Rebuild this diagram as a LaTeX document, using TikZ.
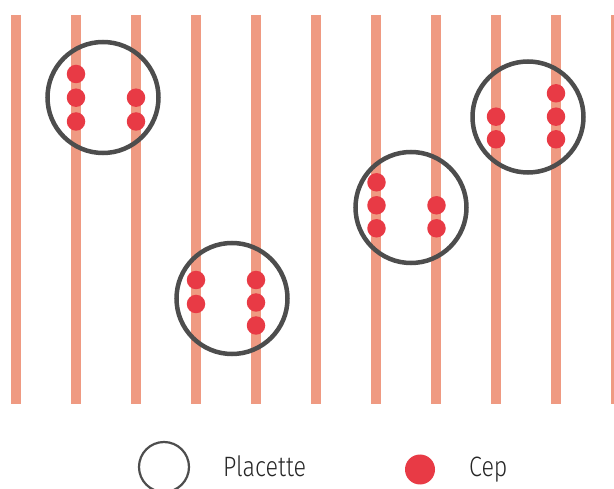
\documentclass[tikz,border=0pt]{standalone}
\usepackage{fontspec}
\setmainfont{Fira Sans}[UprightFont=* Light]
\newfontfamily\legfont{Fira Sans}[UprightFont=* Light,FakeStretch=0.83]
\definecolor{stripe}{HTML}{EF9A82}
\definecolor{cep}{HTML}{E83A45}
\definecolor{ring}{HTML}{4D4D4D}
\begin{document}
\begin{tikzpicture}[x=1pt,y=-1pt,
  stripeline/.style={draw=stripe,line width=10.5pt},
  plac/.style={circle,draw=ring,line width=4.5pt,minimum size=111pt,inner sep=0pt},
  cepdot/.style={circle,fill=cep,minimum size=18.5pt,inner sep=0pt},
  legplac/.style={circle,draw=ring,line width=2.2pt,minimum size=50pt,inner sep=0pt},
  legcep/.style={circle,fill=cep,minimum size=30pt,inner sep=0pt},
  legtext/.style={anchor=base west,inner sep=0pt,font=\legfont\fontsize{28}{30}\selectfont,text=black!85}]
\useasboundingbox (0,0) rectangle (614,489);
\foreach \i in {0,...,10} {
  \coordinate (st\i) at ({16+60*\i},15);
  \coordinate (sb\i) at ({16+60*\i},404.5);
  \draw[stripeline] (st\i) -- (sb\i);
}
% placette 1
\node[plac] (p1) at (103,97.5) {};
\node[cepdot] (c1a) at (76,74) {};
\node[cepdot] (c1b) at (76,97.7) {};
\node[cepdot] (c1c) at (76,121.5) {};
\node[cepdot] (c1d) at (136,97.7) {};
\node[cepdot] (c1e) at (136,121.5) {};
% placette 2
\node[plac] (p2) at (232,298.5) {};
\node[cepdot] (c2a) at (196,280) {};
\node[cepdot] (c2b) at (196,304) {};
\node[cepdot] (c2c) at (256,280) {};
\node[cepdot] (c2d) at (256,302.5) {};
\node[cepdot] (c2e) at (256,325.5) {};
% placette 3
\node[plac] (p3) at (411,207.5) {};
\node[cepdot] (c3a) at (376.5,182.3) {};
\node[cepdot] (c3b) at (376.5,205.3) {};
\node[cepdot] (c3c) at (376.5,228.3) {};
\node[cepdot] (c3d) at (436.5,205.3) {};
\node[cepdot] (c3e) at (436.5,228.3) {};
% placette 4
\node[plac] (p4) at (528,117) {};
\node[cepdot] (c4a) at (496,116.7) {};
\node[cepdot] (c4b) at (496,139.3) {};
\node[cepdot] (c4c) at (556,93.3) {};
\node[cepdot] (c4d) at (556,116.7) {};
\node[cepdot] (c4e) at (556,139.3) {};
% legend
\node[legplac] (lp) at (164,467) {};
\node[legtext] (lpt) at (223,476.5) {Placette};
\node[legcep] (lc) at (420,469.5) {};
\node[legtext] (lct) at (469,476.5) {Cep};
\end{tikzpicture}
\end{document}
